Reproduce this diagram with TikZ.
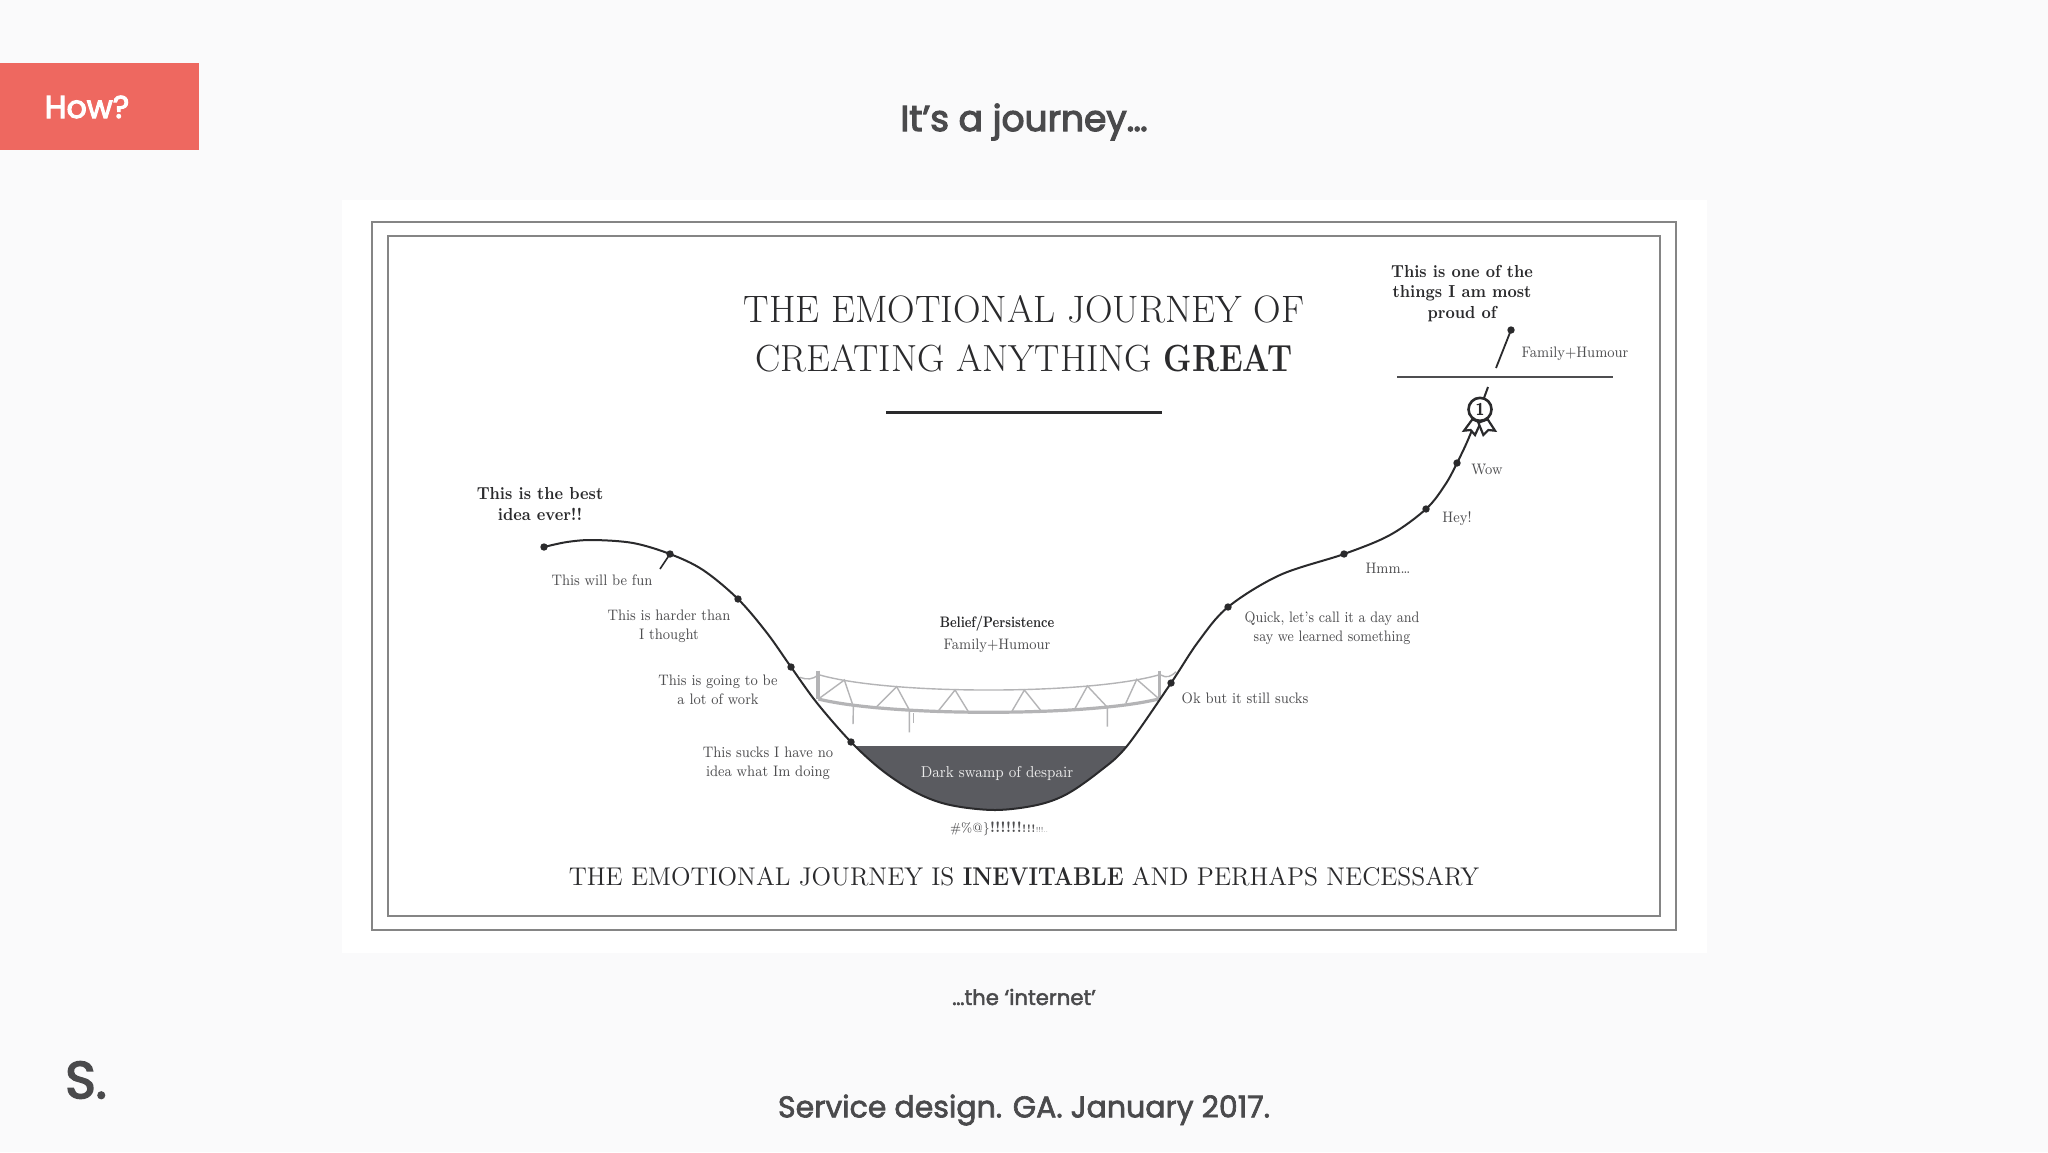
\documentclass[tikz,border=0pt]{standalone}
\usepackage{fontspec}
\usepackage{graphicx}
\newfontfamily\hdr{Poppins}[FakeBold=2.2]
\newfontfamily\hdrb{Poppins}[FakeBold=3.2]
\newfontfamily\didot{Latin Modern Roman}[FakeStretch=0.9]
\newfontfamily\didotq{Latin Modern Roman}[FakeStretch=0.87]
\newfontfamily\didotb{Latin Modern Roman}[FakeStretch=0.78]
\definecolor{pagebg}{HTML}{FAFAFB}
\definecolor{coral}{HTML}{EE6860}
\definecolor{hdrtext}{HTML}{4A4A4C}
\definecolor{framegray}{HTML}{858585}
\definecolor{swamp}{HTML}{5A5B60}
\definecolor{bridgegray}{HTML}{B4B4B6}
\definecolor{inkdark}{HTML}{2A2A2C}
\definecolor{labelgray}{HTML}{4E4E50}
\newcommand{\fs}[1]{\fontsize{#1}{#1}\selectfont}
\tikzset{
  x=.5pt,y=-.5pt,
  hdrlabel/.style={inner sep=0,text=hdrtext,font=\hdr},
  lab/.style={inner sep=0,text=labelgray,align=center,font=\didot\fontsize{7.6}{9.6}\selectfont},
  blab/.style={inner sep=0,text=inkdark,align=center,font=\didot\bfseries\fontsize{8.7}{10.3}\selectfont},
  titletxt/.style={inner sep=0,text=inkdark,font=\fs{19.1}},
  dot/.style={circle,fill=inkdark,inner sep=0,minimum size=3.7pt},
  frameline/.style={draw=framegray,line width=1pt},
  bridge/.style={draw=bridgegray,line width=.7pt},
  bridgeheavy/.style={draw=bridgegray,line width=1.6pt},
  curve/.style={insert path={plot[smooth,tension=.55] coordinates {(544,547)(567,542)(593,540)(633,543)(670,554)(703,570)(738,599)(767,633)(791,667)(817,703)(851,742)(883,771)(917,793)(950,805)(995,810)(1037,805)(1067,794)(1100,771)(1127,746)(1171,683)(1198,642)(1228,607)(1280,575)(1344,554)(1390,535)(1426,509)(1445,485)(1457,463)(1470,435)(1488,387)}}}
}
\begin{document}
\begin{tikzpicture}
\useasboundingbox (0,0) rectangle (2048,1152);
\fill[pagebg] (0,0) rectangle (2048,1152);
% header
\fill[coral] (0,63) rectangle (199,150);
\node[inner sep=0,text=white,font=\hdrb\fs{15.8}] (how) at (87,107) {How?};
\node[hdrlabel,font=\hdrb\fs{18}] (head) at (1024,122) {It’s a journey…};
% panel
\fill[white] (342,200) rectangle (1707,953);
\draw[frameline] (372,222) rectangle (1676,930);
\draw[frameline] (388,236) rectangle (1660,916);
% title
\node[titletxt] (t1) at (1024,309) {THE EMOTIONAL JOURNEY OF};
\node[titletxt,font=\fs{18.9}] (t2) at (1024,358) {CREATING ANYTHING \scalebox{.85}[1]{\textbf{GREAT}}};
\draw[inkdark,line width=1.5pt] (886,412) -- (1162,412);
% swamp
\begin{scope}
\clip (850,746) rectangle (1135,830);
\fill[swamp,curve];
\end{scope}
% bridge
\begin{scope}[shift={(750,600)},x=.1667pt,y=-.1667pt]
\draw[bridgeheavy] (205,297) .. controls (420,350) and (1010,350) .. (1225,297);
\draw[bridge] (210,225) .. controls (420,285) and (1010,285) .. (1225,225);
\draw[bridgeheavy] (204,212) -- (204,297);
\draw[bridgeheavy] (1227,212) -- (1227,297);
\draw[bridge] (205,297) -- (283,240) -- (310,320) -- (309,372);
\draw[bridge] (380,320) -- (440,260) -- (478,330) -- (478,397);
\draw[bridge] (491,340) -- (491,370);
\draw[bridge] (563,335) -- (615,270) -- (658,340);
\draw[bridge] (783,338) -- (823,270) -- (875,335);
\draw[bridge] (975,325) -- (1012,258) -- (1072,322) -- (1072,380);
\draw[bridge] (1127,310) -- (1160,238) -- (1225,295);
\draw[bridge] (150,232) .. controls (170,240) and (190,238) .. (204,225);
\draw[bridge] (1232,225) .. controls (1250,235) and (1262,230) .. (1278,215);
\end{scope}
% curve
\draw[inkdark,line width=1pt,curve];
\node[dot] (d1) at (544,547) {};
\node[dot] (d2) at (670,554) {};
\node[dot] (d3) at (738,599) {};
\node[dot] (d4) at (791,667) {};
\node[dot] (d5) at (851,742) {};
\node[dot] (d6) at (1171,683) {};
\node[dot] (d7) at (1228,607) {};
\node[dot] (d8) at (1344,554) {};
\node[dot] (d9) at (1426,509) {};
\node[dot] (d10) at (1457,463) {};
\node[dot] (d11) at (1511,330) {};
\coordinate (tick) at (660,569);
\coordinate (peakfoot) at (1496,368);
\draw[inkdark,line width=.8pt] (d2.center) -- (tick);
\draw[inkdark,line width=.9pt] (d11.center) -- (peakfoot);
\draw[labelgray,line width=1pt] (1397,377) -- (1613,377);
% medal
\begin{scope}[shift={(1440,380)},x=.1667pt,y=-.1667pt]
\filldraw[draw=inkdark,fill=white,line width=1.1pt,line join=miter] (97,118) -- (72,152) -- (92,150) -- (105,165) -- (122,128) -- cycle;
\filldraw[draw=inkdark,fill=white,line width=1.1pt,line join=miter] (143,118) -- (165,152) -- (145,150) -- (130,165) -- (115,128) -- cycle;
\node[circle,draw=inkdark,fill=white,line width=1.3pt,minimum size=11.5pt,inner sep=0,font=\sffamily\bfseries\fs{8.5},text=inkdark] (medal) at (120,88) {1};
\end{scope}
% labels
\node[blab] (best) at (540,504) {This is the best\\idea ever!!};
\node[lab] (fun) at (602,580) {This will be fun};
\node[lab] (harder) at (669,626) {This is harder than\\I thought};
\node[lab] (work) at (718,690) {This is going to be\\a lot of work};
\node[lab] (sucks) at (768,763) {This sucks I have no\\idea what Im doing};
\node[blab,font=\didotb\bfseries\fs{7.6}] (belief) at (997,624) {Belief/Persistence};
\node[lab] (fam) at (997,646) {Family+Humour};
\node[lab,text=white!92!black,font=\didot\fs{7.9}] (dark) at (997,773) {Dark swamp of despair};
\node[lab] (curse) at (999,829) {\fs{6.6}\#\%@\}\fs{7.5}\textbf{!!!!!!}\fs{5.4}\textbf{!!!}\fs{3.6}!!!\fs{3}..};
\node[lab] (ok) at (1245,698) {Ok but it still sucks};
\node[blab] (proud) at (1462,293.5) {This is one of the\\things I am most\\proud of};
\node[lab] (fam2) at (1575,354) {Family+Humour};
\node[lab] (wow) at (1487,469) {Wow};
\node[lab] (hey) at (1457,519) {Hey!};
\node[lab] (hmm) at (1388,568) {Hmm…};
\node[lab,font=\didotq\fontsize{7.6}{9.6}\selectfont] (quick) at (1332,628) {Quick, let’s call it a day and\\say we learned something};
\node[titletxt,font=\fs{12.8}] (bottom) at (1024,877) {THE EMOTIONAL JOURNEY IS \scalebox{.89}[1]{\textbf{INEVITABLE}} AND PERHAPS NECESSARY};
% footer
\node[hdrlabel,font=\hdr\fs{10.6}] (net) at (1024,997) {…the ‘internet’};
\node[hdrlabel,font=\hdrb\fs{26}] (s) at (86,1080) {S.};
\node[hdrlabel,font=\hdr\fs{15}] (foot) at (1024,1110) {Service design. GA. January 2017.};
\end{tikzpicture}
\end{document}
